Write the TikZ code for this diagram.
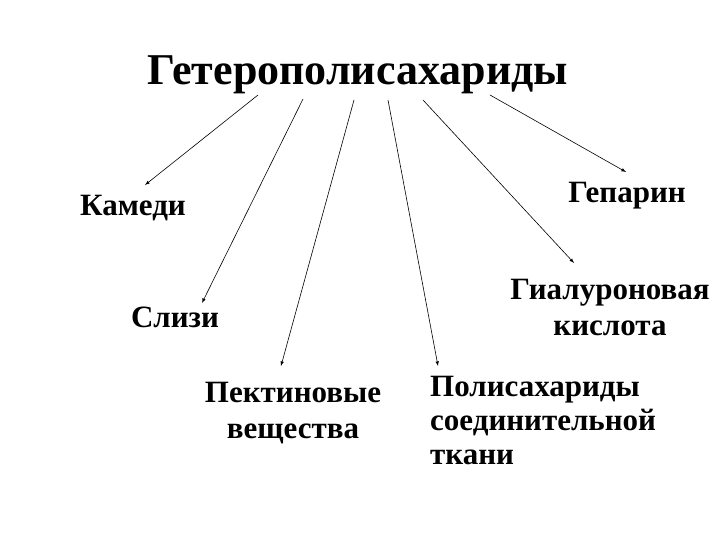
\documentclass[tikz,border=0pt]{standalone}
\usepackage{fontspec}
\setmainfont{Liberation Serif}
\begin{document}
\begin{tikzpicture}[x=1pt,y=-1pt,
	lbl/.style={font=\fontsize{31}{36}\selectfont\bfseries,inner sep=0pt},
	arr/.style={-latex,line width=0.6pt}]
\useasboundingbox[fill=white] (0,0) rectangle (720,540);
\node[font=\fontsize{44}{52}\selectfont\bfseries,inner sep=0pt,anchor=base] (title) at (358,85) {Гетерополисахариды};

\node[lbl,anchor=base] (kamedi) at (133,215) {Камеди};
\node[lbl,anchor=base] (slizi) at (175,327) {Слизи};
\node[lbl,anchor=north,align=center] (pektin) at (293,382) {Пектиновые\\вещества};
\node[lbl,anchor=north west,align=left,font=\fontsize{31}{34}\selectfont\bfseries] (polisah) at (430,376) {Полисахариды\\соединительной\\ткани};
\node[lbl,anchor=north,align=center] (gialur) at (610,279) {Гиалуроновая\\кислота};
\node[lbl,anchor=base] (geparin) at (627,203) {Гепарин};

\coordinate (t1) at (258,95);
\coordinate (t2) at (303,99);
\coordinate (t3) at (354,100);
\coordinate (t4) at (388,100);
\coordinate (t5) at (423,100);
\coordinate (t6) at (490,95);

\coordinate (kamedi-in) at (145,185);
\coordinate (slizi-in) at (202,303);
\coordinate (pektin-in) at (281,366);
\coordinate (polisah-in) at (438,366);
\coordinate (gialur-in) at (574,263);
\coordinate (geparin-in) at (626,172);

\foreach \s/\e in {t1/kamedi-in,t2/slizi-in,t3/pektin-in,t4/polisah-in,t5/gialur-in,t6/geparin-in}
	\draw[arr] (\s) -- (\e);
\end{tikzpicture}
\end{document}
